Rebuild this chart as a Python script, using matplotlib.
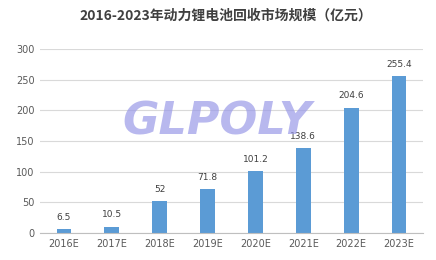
import matplotlib
matplotlib.use("Agg")
import matplotlib.pyplot as plt

categories = ["2016E", "2017E", "2018E", "2019E", "2020E", "2021E", "2022E", "2023E"]
values = [6.5, 10.5, 52, 71.8, 101.2, 138.6, 204.6, 255.4]
value_labels = ["6.5", "10.5", "52", "71.8", "101.2", "138.6", "204.6", "255.4"]
yticks = [0, 50, 100, 150, 200, 250, 300]
title = "2016-2023年动力锂电池回收市场规模（亿元）"
watermark = "GLPOLY"

plt.rcParams['font.family'] = ['Noto Sans CJK SC', 'DejaVu Sans']

fig = plt.figure(figsize=(4.36, 2.6), dpi=100)
fig.patch.set_facecolor("white")
ax = fig.add_axes([40/436, 1-233/260, (423-40)/436, (233-49)/260])

x = list(range(len(categories)))
ax.bar(x, values, width=0.31, color="#5B9BD5", zorder=2)
for xi, v, lab in zip(x, values, value_labels):
    ax.text(xi, v + 12, lab, ha="center", va="bottom", fontsize=6.5,
            color="#404040", family=['DejaVu Sans'], zorder=4)

ax.set_xlim(-0.5, len(categories) - 0.5)
ax.set_ylim(0, 300)
ax.set_yticks(yticks)
ax.set_xticks(x)
ax.set_xticklabels(categories)
ax.grid(axis="y", color="#d9d9d9", linewidth=0.8, zorder=0)
for s in ["top", "right", "left"]:
    ax.spines[s].set_visible(False)
ax.spines["bottom"].set_color("#bfbfbf")
ax.spines["bottom"].set_linewidth(0.8)
ax.tick_params(axis="both", length=0, labelsize=7, colors="#595959", pad=4)
for lbl in ax.get_xticklabels() + ax.get_yticklabels():
    lbl.set_family(['DejaVu Sans'])

fig.text(226/436, 1-16/260, title, ha="center", va="center", fontsize=10,
         fontweight="bold", color="#404040")

fig.text(217/436, 1-122/260, watermark, ha="center", va="center", fontsize=32,
         fontweight="bold", fontstyle="italic", color="#9a9ae8", alpha=0.7,
         family=['DejaVu Sans'], zorder=3)

fig.savefig("out.png", dpi=100)
